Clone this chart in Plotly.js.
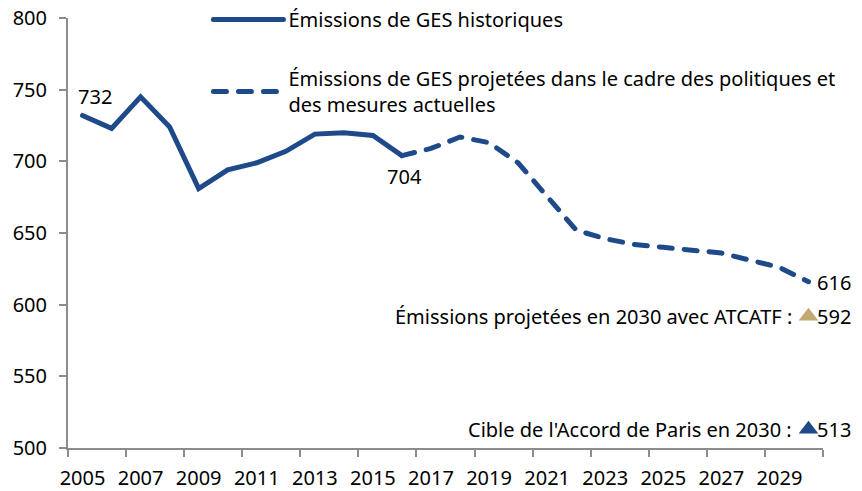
<!DOCTYPE html>
<html>
<head>
<meta charset="utf-8">
<script src="https://cdn.plot.ly/plotly-3.0.1.min.js"></script>
<style>
  html, body { margin: 0; padding: 0; background: #fff; }
  #chart { width: 862px; height: 491px; }
  .main-svg path.js-line, .legendlines path { stroke-linecap: round; }
</style>
</head>
<body>
<div id="chart"></div>
<script>
// ---- Data ----
const histYears = [2005, 2006, 2007, 2008, 2009, 2010, 2011, 2012, 2013, 2014, 2015, 2016];
const histValues = [732, 723, 745, 724, 681, 694, 699, 707, 719, 720, 718, 704];
const projYears = [2016, 2017, 2018, 2019, 2020, 2021, 2022, 2023, 2024, 2025, 2026, 2027, 2028, 2029, 2030];
const projValues = [704, 709, 717, 713, 699, 676, 652, 646, 642, 640, 638, 636, 631, 626, 616];
const targetYear = 2030;
const atcatfValue = 592;
const parisValue = 513;
const tickYears = [2005, 2007, 2009, 2011, 2013, 2015, 2017, 2019, 2021, 2023, 2025, 2027, 2029];
const tickLabels = tickYears.map(String);
const boundaryTicks = [2004.5, 2006.5, 2008.5, 2010.5, 2012.5, 2014.5, 2016.5, 2018.5, 2020.5, 2022.5, 2024.5, 2026.5, 2028.5, 2030.5];
const seriesNames = ["Émissions de GES historiques",
  "Émissions de GES projetées dans le cadre des politiques et<br>des mesures actuelles"];
const atcatfText = "Émissions projetées en 2030 avec ATCATF :";
const parisText = "Cible de l'Accord de Paris en 2030 :";

// ---- Styles ----
const BLUE = "#1f4a89";
const GOLD = "#c4a872";
const FONT = "'Noto Sans', 'Open Sans', sans-serif";
const FS = 20;

const traces = [
  {
    x: histYears, y: histValues, type: "scatter", mode: "lines",
    name: seriesNames[0], legendgroup: "a",
    line: { color: BLUE, width: 5 }
  },
  {
    x: projYears, y: projValues, type: "scatter", mode: "lines",
    name: seriesNames[1], legendgroup: "b",
    line: { color: BLUE, width: 5, dash: "13px,12px" }
  },
  {
    x: [targetYear], y: [atcatfValue], type: "scatter", mode: "markers",
    showlegend: false, cliponaxis: false,
    marker: { symbol: "triangle-up", size: 17, color: GOLD }
  },
  {
    x: [targetYear], y: [parisValue], type: "scatter", mode: "markers",
    showlegend: false, cliponaxis: false,
    marker: { symbol: "triangle-up", size: 17, color: BLUE }
  }
];

const lastHist = histValues.length - 1;
const lastProj = projValues.length - 1;
const annFont = { family: FONT, size: FS, color: "#000" };
const annotations = [
  { x: histYears[0], y: histValues[0], text: String(histValues[0]), showarrow: false,
    xanchor: "left", yanchor: "bottom", xshift: -7, yshift: 3, font: annFont },
  { x: histYears[lastHist], y: histValues[lastHist], text: String(histValues[lastHist]), showarrow: false,
    xanchor: "center", yanchor: "top", xshift: 3, yshift: -5, font: annFont },
  { x: projYears[lastProj], y: projValues[lastProj], text: String(projValues[lastProj]), showarrow: false,
    xanchor: "left", yanchor: "middle", xshift: 7, yshift: -1, font: annFont },
  { x: targetYear, y: atcatfValue, text: atcatfText, showarrow: false,
    xanchor: "right", yanchor: "middle", xshift: -14, font: annFont },
  { x: targetYear, y: atcatfValue, text: String(atcatfValue), showarrow: false,
    xanchor: "left", yanchor: "middle", xshift: 7, font: annFont },
  { x: targetYear, y: parisValue, text: parisText, showarrow: false,
    xanchor: "right", yanchor: "middle", xshift: -14, font: annFont },
  { x: targetYear, y: parisValue, text: String(parisValue), showarrow: false,
    xanchor: "left", yanchor: "middle", xshift: 7, font: annFont }
];

const layout = {
  width: 862, height: 491,
  margin: { l: 68, r: 39, t: 18, b: 43, autoexpand: false },
  paper_bgcolor: "#fff", plot_bgcolor: "#fff",
  font: { family: FONT, size: FS, color: "#000" },
  showlegend: true,
  legend: {
    x: 0.186, xanchor: "left", y: 1.042, yanchor: "top",
    bgcolor: "rgba(0,0,0,0)", borderwidth: 0,
    itemwidth: 70, tracegroupgap: 30,
    font: { family: FONT, size: FS, color: "#000" }
  },
  xaxis: {
    range: [2004.5, 2030.5], showgrid: false, zeroline: false,
    showline: true, linecolor: "#8c8c8c", linewidth: 2,
    tickmode: "array", tickvals: tickYears, ticktext: tickLabels,
    ticks: "", ticklabelstandoff: 11,
    minor: { tickmode: "array", tickvals: boundaryTicks, ticks: "outside", ticklen: 7, tickwidth: 2, tickcolor: "#8c8c8c" },
    tickfont: { family: FONT, size: FS, color: "#000" }
  },
  yaxis: {
    range: [500, 800], showgrid: false, zeroline: false,
    showline: true, linecolor: "#8c8c8c", linewidth: 2,
    tickmode: "array", tickvals: [500, 550, 600, 650, 700, 750, 800],
    ticks: "outside", ticklen: 7, tickwidth: 2, tickcolor: "#8c8c8c",
    ticklabelstandoff: 8,
    tickfont: { family: FONT, size: FS, color: "#000" }
  },
  annotations: annotations
};

Plotly.newPlot("chart", traces, layout, { displayModeBar: false, staticPlot: true });
</script>
</body>
</html>
